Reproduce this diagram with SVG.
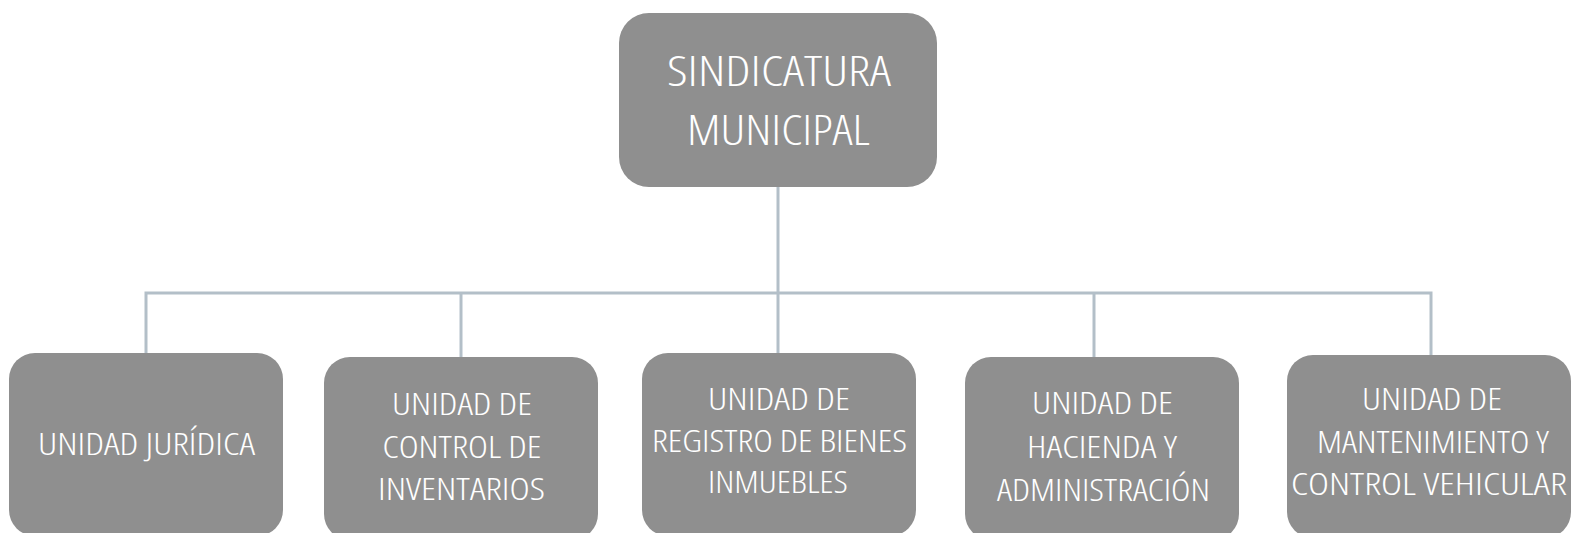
<svg xmlns="http://www.w3.org/2000/svg" width="1572" height="533" viewBox="0 0 1572 533">
<style>
.box{fill:#8f8f8f}
.t{fill:#ffffff;font-family:"Open Sans","Liberation Sans",sans-serif;font-stretch:condensed;font-weight:320;text-anchor:middle}
.big{font-size:43px}
.sm{font-size:31px}
.c{stroke:#b3bfc8;stroke-width:3;fill:none}
</style>
<rect width="1572" height="533" fill="#ffffff"/>
<g id="connectors">
<line class="c" x1="778" y1="187" x2="778" y2="353"/>
<polyline class="c" points="146,353 146,293 1431,293 1431,355"/>
<line class="c" x1="461" y1="293" x2="461" y2="357"/>
<line class="c" x1="1094" y1="293" x2="1094" y2="357"/>
</g>
<g id="n0"><rect class="box" x="619" y="13" width="318" height="174" rx="30"/>
<text class="t big" x="779" y="86" textLength="224" lengthAdjust="spacingAndGlyphs">SINDICATURA</text>
<text class="t big" x="778.5" y="145" textLength="183" lengthAdjust="spacingAndGlyphs">MUNICIPAL</text></g>
<g id="n1"><rect class="box" x="9" y="353" width="274" height="183" rx="26"/>
<text class="t sm" x="146.5" y="455" textLength="217" lengthAdjust="spacingAndGlyphs">UNIDAD JURÍDICA</text></g>
<g id="n2"><rect class="box" x="324" y="357" width="274" height="183" rx="26"/>
<text class="t sm" x="462" y="415" textLength="140" lengthAdjust="spacingAndGlyphs">UNIDAD DE</text>
<text class="t sm" x="462" y="458" textLength="159" lengthAdjust="spacingAndGlyphs">CONTROL DE</text>
<text class="t sm" x="461.5" y="500" textLength="167" lengthAdjust="spacingAndGlyphs">INVENTARIOS</text></g>
<g id="n3"><rect class="box" x="642" y="353" width="274" height="183" rx="26"/>
<text class="t sm" x="779" y="410" textLength="142" lengthAdjust="spacingAndGlyphs">UNIDAD DE</text>
<text class="t sm" x="779.5" y="452" textLength="255" lengthAdjust="spacingAndGlyphs">REGISTRO DE BIENES</text>
<text class="t sm" x="778" y="493" textLength="140" lengthAdjust="spacingAndGlyphs">INMUEBLES</text></g>
<g id="n4"><rect class="box" x="965" y="357" width="274" height="183" rx="26"/>
<text class="t sm" x="1102.5" y="414" textLength="141" lengthAdjust="spacingAndGlyphs">UNIDAD DE</text>
<text class="t sm" x="1102" y="458" textLength="150" lengthAdjust="spacingAndGlyphs">HACIENDA Y</text>
<text class="t sm" x="1103.5" y="501" textLength="213" lengthAdjust="spacingAndGlyphs">ADMINISTRACIÓN</text></g>
<g id="n5"><rect class="box" x="1287" y="355" width="284" height="183" rx="26"/>
<text class="t sm" x="1432" y="410" textLength="140" lengthAdjust="spacingAndGlyphs">UNIDAD DE</text>
<text class="t sm" x="1433" y="453" textLength="232" lengthAdjust="spacingAndGlyphs">MANTENIMIENTO Y</text>
<text class="t sm" x="1429" y="495" textLength="276" lengthAdjust="spacingAndGlyphs">CONTROL VEHICULAR</text></g>
</svg>
